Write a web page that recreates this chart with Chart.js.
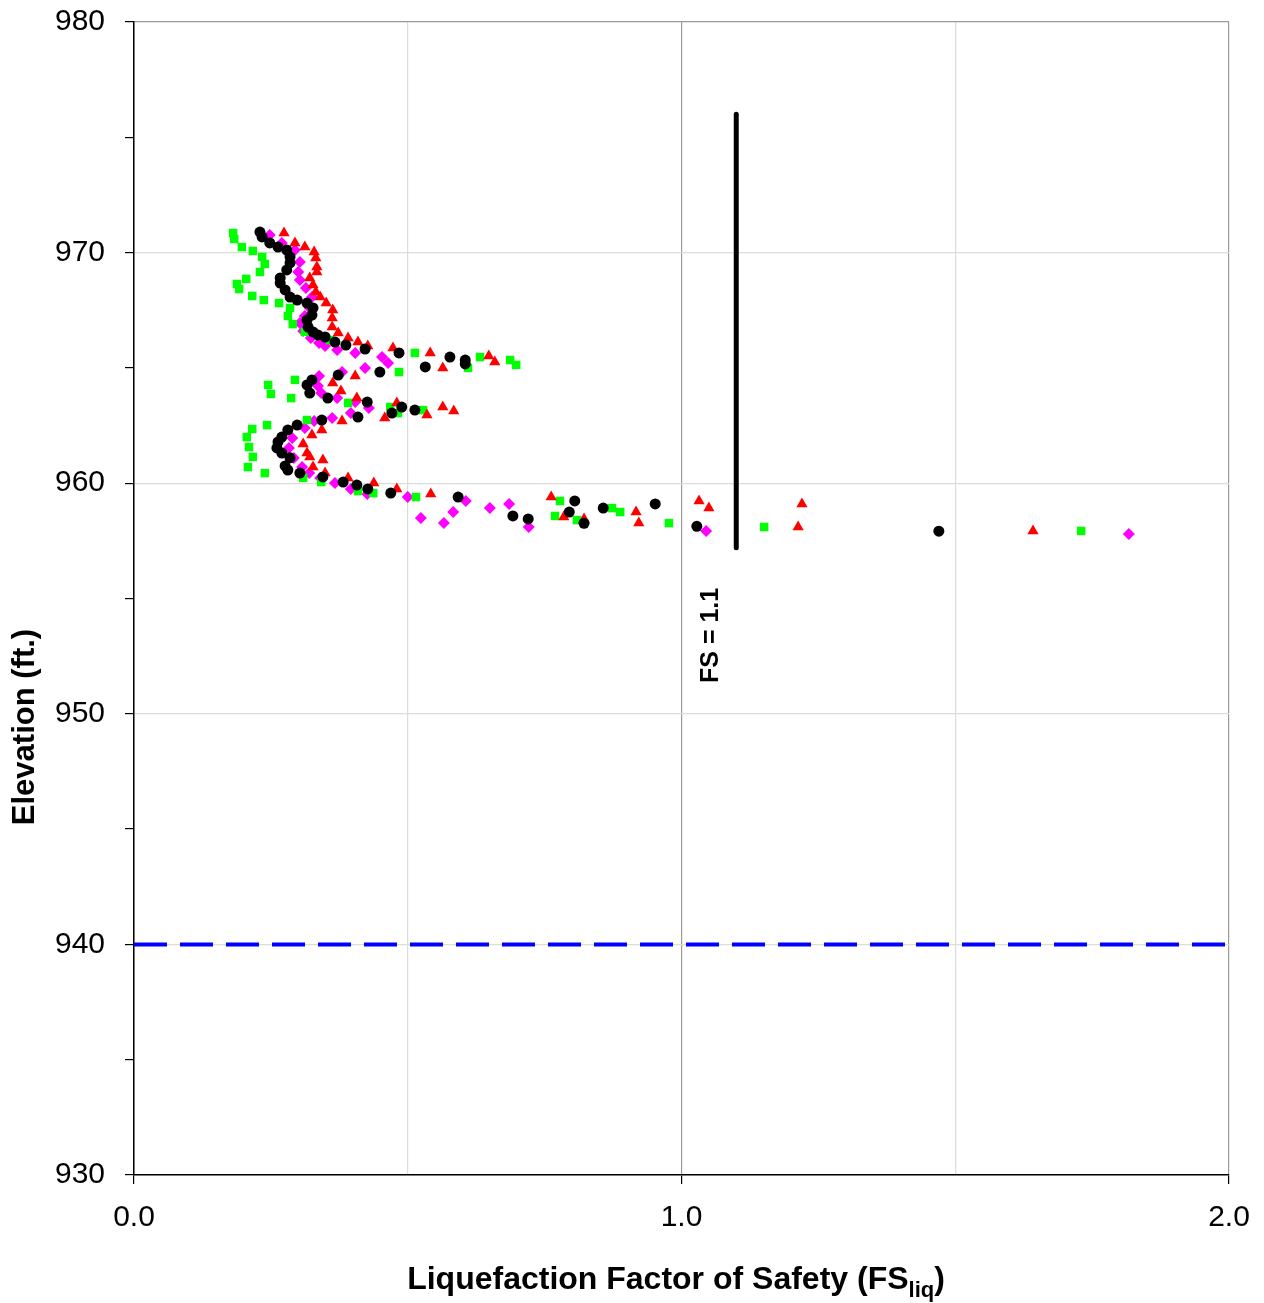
<!DOCTYPE html>
<html>
<head>
<meta charset="utf-8">
<title>Liquefaction Factor of Safety</title>
<script src="https://cdn.jsdelivr.net/npm/chart.js@4.4.1/dist/chart.umd.min.js"></script>
<style>
  html, body { margin: 0; padding: 0; background: #fff; }
  canvas { display: block; }
</style>
</head>
<body>
<canvas id="fsChart" width="1264" height="1303"></canvas>
<script>
// CPT soundings: elevation (ft) vs. factor of safety against liquefaction
const circleElev = [970.89, 970.68, 970.42, 970.24, 970.11, 969.81, 969.55, 969.25, 968.90, 968.68, 968.38, 968.07, 967.94, 967.81, 967.60, 967.29, 967.08, 966.77, 966.56, 966.43, 966.34, 966.12, 965.99, 965.82, 965.65, 965.47, 965.34, 965.17, 965.04, 964.82, 964.69, 964.48, 964.26, 963.91, 963.69, 963.52, 963.30, 963.17, 963.04, 962.87, 962.74, 962.52, 962.31, 962.00, 961.79, 961.53, 961.31, 961.10, 960.75, 960.57, 960.44, 960.27, 960.05, 959.92, 959.75, 959.57, 959.40, 959.23, 959.10, 958.92, 958.75, 958.58, 958.45, 958.26, 958.13, 957.92];
const circleFs = [0.230, 0.234, 0.248, 0.263, 0.279, 0.285, 0.285, 0.279, 0.267, 0.267, 0.276, 0.285, 0.298, 0.316, 0.327, 0.325, 0.316, 0.318, 0.327, 0.336, 0.349, 0.367, 0.387, 0.422, 0.484, 0.577, 0.605, 0.605, 0.532, 0.449, 0.373, 0.325, 0.316, 0.321, 0.354, 0.426, 0.489, 0.513, 0.471, 0.409, 0.343, 0.298, 0.281, 0.270, 0.263, 0.261, 0.270, 0.285, 0.276, 0.281, 0.303, 0.345, 0.382, 0.407, 0.427, 0.469, 0.592, 0.805, 0.952, 0.857, 0.795, 0.692, 0.720, 0.822, 1.028, 1.470];

const triangleElev = [970.85, 970.42, 970.24, 970.03, 969.77, 969.38, 969.16, 968.90, 968.60, 968.29, 968.07, 967.81, 967.51, 967.16, 966.77, 966.51, 966.30, 966.12, 965.95, 965.86, 965.65, 965.52, 965.26, 965.00, 964.65, 964.35, 964.00, 963.69, 963.48, 963.30, 963.13, 962.96, 962.83, 962.70, 962.31, 962.09, 961.70, 961.31, 961.14, 961.01, 960.70, 960.44, 960.23, 960.01, 959.75, 959.53, 959.40, 959.23, 959.10, 958.92, 958.75, 958.53, 958.45, 958.27, 958.10, 957.93];
const triangleFs = [0.274, 0.294, 0.312, 0.329, 0.332, 0.334, 0.334, 0.321, 0.327, 0.332, 0.340, 0.351, 0.363, 0.362, 0.362, 0.373, 0.391, 0.409, 0.427, 0.473, 0.541, 0.648, 0.659, 0.564, 0.404, 0.363, 0.378, 0.407, 0.480, 0.564, 0.584, 0.535, 0.458, 0.380, 0.343, 0.325, 0.309, 0.316, 0.321, 0.345, 0.327, 0.349, 0.391, 0.438, 0.480, 0.542, 0.762, 1.032, 1.220, 1.050, 0.917, 0.785, 0.822, 0.922, 1.213, 1.642];

const squareElev = [970.85, 970.59, 970.24, 970.07, 969.81, 969.51, 969.16, 968.86, 968.64, 968.42, 968.12, 967.94, 967.81, 967.60, 967.25, 966.90, 966.56, 966.21, 965.86, 965.65, 965.47, 965.34, 965.13, 965.00, 964.82, 964.48, 964.26, 963.87, 963.69, 963.48, 963.30, 963.17, 963.04, 962.74, 962.52, 962.35, 962.00, 961.57, 961.14, 960.70, 960.44, 960.23, 960.05, 959.66, 959.57, 959.40, 959.23, 958.92, 958.75, 958.58, 958.40, 958.27, 958.10, 957.93];
const squareFs = [0.181, 0.183, 0.197, 0.217, 0.234, 0.239, 0.230, 0.205, 0.188, 0.192, 0.216, 0.237, 0.265, 0.285, 0.281, 0.290, 0.312, 0.358, 0.422, 0.513, 0.632, 0.687, 0.698, 0.610, 0.484, 0.294, 0.245, 0.250, 0.287, 0.391, 0.468, 0.528, 0.482, 0.316, 0.243, 0.216, 0.206, 0.210, 0.217, 0.208, 0.239, 0.309, 0.342, 0.409, 0.437, 0.515, 0.778, 0.873, 0.888, 0.769, 0.809, 0.977, 1.151, 1.730];

const diamondElev = [970.76, 970.42, 970.11, 969.59, 969.16, 968.81, 968.46, 968.07, 967.60, 967.25, 966.95, 966.60, 966.30, 966.08, 965.95, 965.78, 965.65, 965.47, 965.21, 965.00, 964.82, 964.65, 964.22, 963.91, 963.69, 963.52, 963.26, 963.04, 962.83, 962.70, 962.39, 961.96, 961.53, 961.09, 960.70, 960.44, 960.23, 960.01, 959.75, 959.53, 959.40, 959.23, 959.10, 958.92, 958.75, 958.49, 958.27, 958.10, 957.93, 957.80];
const diamondFs = [0.248, 0.270, 0.294, 0.303, 0.300, 0.303, 0.314, 0.325, 0.321, 0.312, 0.303, 0.309, 0.323, 0.338, 0.349, 0.371, 0.404, 0.453, 0.464, 0.422, 0.380, 0.338, 0.336, 0.342, 0.371, 0.404, 0.429, 0.396, 0.362, 0.329, 0.312, 0.289, 0.283, 0.292, 0.307, 0.320, 0.340, 0.367, 0.396, 0.426, 0.500, 0.606, 0.685, 0.650, 0.583, 0.524, 0.566, 0.721, 1.045, 1.817];

// design threshold and groundwater level
const limitFs = 1.1;
const limitElev = [957.2, 976.0];
const limitLabel = 'FS = 1.1';
const waterElev = 940;
const waterFs = [0, 2];

// axes
const xRange = [0, 2];
const xStep = 0.5;
const yRange = [930, 980];
const yStep = 5;

const FONT = '"Liberation Sans", Arial, Helvetica, sans-serif';

const toPoints = ( xs, ys ) => xs.map( ( v, i ) => ( { x: v, y: ys[ i ] } ) );
const isWhole = ( v, step ) => Math.abs( v / step - Math.round( v / step ) ) < 1e-6;

const titles = {
    id: 'titles',
    afterDraw ( chart ) {
        const { ctx, scales: { x, y } } = chart;
        ctx.save();
        ctx.fillStyle = '#000';

        // label for the FS line, reading bottom to top
        ctx.save();
        ctx.font = 'bold 25px ' + FONT;
        ctx.translate( x.getPixelForValue( limitFs ) - 25, y.getPixelForValue( 953.4 ) );
        ctx.rotate( -Math.PI / 2 );
        ctx.textAlign = 'center';
        ctx.textBaseline = 'middle';
        ctx.fillText( limitLabel, 0, 0 );
        ctx.restore();

        // y axis title
        ctx.save();
        ctx.font = 'bold 31px ' + FONT;
        ctx.translate( 25, 727 );
        ctx.rotate( -Math.PI / 2 );
        ctx.textAlign = 'center';
        ctx.textBaseline = 'middle';
        ctx.fillText( 'Elevation (ft.)', 0, 0 );
        ctx.restore();

        // x axis title with subscript
        const main = 'Liquefaction Factor of Safety (FS';
        const sub = 'liq';
        const tail = ')';
        const mainFont = 'bold 32px ' + FONT;
        const subFont = 'bold 22px ' + FONT;
        ctx.font = mainFont;
        const wMain = ctx.measureText( main ).width;
        const wTail = ctx.measureText( tail ).width;
        ctx.font = subFont;
        const wSub = ctx.measureText( sub ).width;
        let cx = 676 - ( wMain + wSub + wTail ) / 2;
        const base = 1289;
        ctx.textAlign = 'left';
        ctx.textBaseline = 'alphabetic';
        ctx.font = mainFont;
        ctx.fillText( main, cx, base );
        cx += wMain;
        ctx.font = subFont;
        ctx.fillText( sub, cx, base + 8 );
        cx += wSub;
        ctx.font = mainFont;
        ctx.fillText( tail, cx, base );

        ctx.restore();
    }
};

new Chart( document.getElementById( 'fsChart' ), {
    type: 'scatter',
    data: {
        datasets: [ {
            data: toPoints( circleFs, circleElev ),
            pointStyle: 'circle',
            pointRadius: 5.5,
            backgroundColor: '#000000',
            borderWidth: 0
        }, {
            data: toPoints( triangleFs, triangleElev ),
            pointStyle: 'triangle',
            pointRadius: 6.5,
            backgroundColor: '#ff0000',
            borderWidth: 0
        }, {
            data: toPoints( squareFs, squareElev ),
            pointStyle: 'rect',
            pointRadius: 6,
            backgroundColor: '#00ff00',
            borderWidth: 0
        }, {
            data: toPoints( diamondFs, diamondElev ),
            pointStyle: 'rectRot',
            pointRadius: 6,
            backgroundColor: '#ff00ff',
            borderWidth: 0
        }, {
            data: limitElev.map( e => ( { x: limitFs, y: e } ) ),
            showLine: true,
            borderColor: '#000000',
            borderWidth: 5,
            borderCapStyle: 'round',
            pointRadius: 0
        }, {
            data: waterFs.map( f => ( { x: f, y: waterElev } ) ),
            showLine: true,
            borderColor: '#0000ff',
            borderWidth: 4,
            borderDash: [ 33, 13 ],
            pointRadius: 0
        } ]
    },
    options: {
        responsive: false,
        animation: false,
        events: [],
        layout: { padding: { top: 22, right: 35, bottom: 0, left: 0 } },
        plugins: {
            legend: { display: false },
            tooltip: { enabled: false }
        },
        scales: {
            x: {
                type: 'linear',
                min: xRange[ 0 ],
                max: xRange[ 1 ],
                afterFit ( scale ) {
                    scale.height = 128;
                    scale.paddingLeft = 0;
                    scale.paddingRight = 0;
                },
                border: { color: '#000', width: 1.5 },
                grid: {
                    tickLength: 9,
                    color: ctx => isWhole( ctx.tick.value, 1 ) ? '#9a9a9a' : '#dcdcdc',
                    tickColor: ctx => isWhole( ctx.tick.value, 1 ) ? '#000' : 'rgba(0,0,0,0)',
                    lineWidth: 1.2
                },
                ticks: {
                    stepSize: xStep,
                    autoSkip: false,
                    maxRotation: 0,
                    padding: 16,
                    color: '#000',
                    font: { family: FONT, size: 30 },
                    callback: v => isWhole( v, 1 ) ? v.toFixed( 1 ) : ''
                }
            },
            y: {
                type: 'linear',
                min: yRange[ 0 ],
                max: yRange[ 1 ],
                afterFit ( scale ) {
                    scale.width = 134;
                    scale.paddingTop = 0;
                    scale.paddingBottom = 0;
                },
                border: { color: '#000', width: 1.5 },
                grid: {
                    tickLength: 9,
                    color: ctx => {
                        const v = ctx.tick.value;
                        if ( v === yRange[ 1 ] ) return '#9a9a9a';
                        return isWhole( v, 10 ) ? '#dcdcdc' : 'rgba(0,0,0,0)';
                    },
                    tickColor: '#000',
                    lineWidth: 1.2
                },
                ticks: {
                    stepSize: yStep,
                    autoSkip: false,
                    padding: 20,
                    color: '#000',
                    font: { family: FONT, size: 30 },
                    callback: v => isWhole( v, 10 ) ? String( v ) : ''
                }
            }
        }
    },
    plugins: [ titles ]
} );
</script>
</body>
</html>
